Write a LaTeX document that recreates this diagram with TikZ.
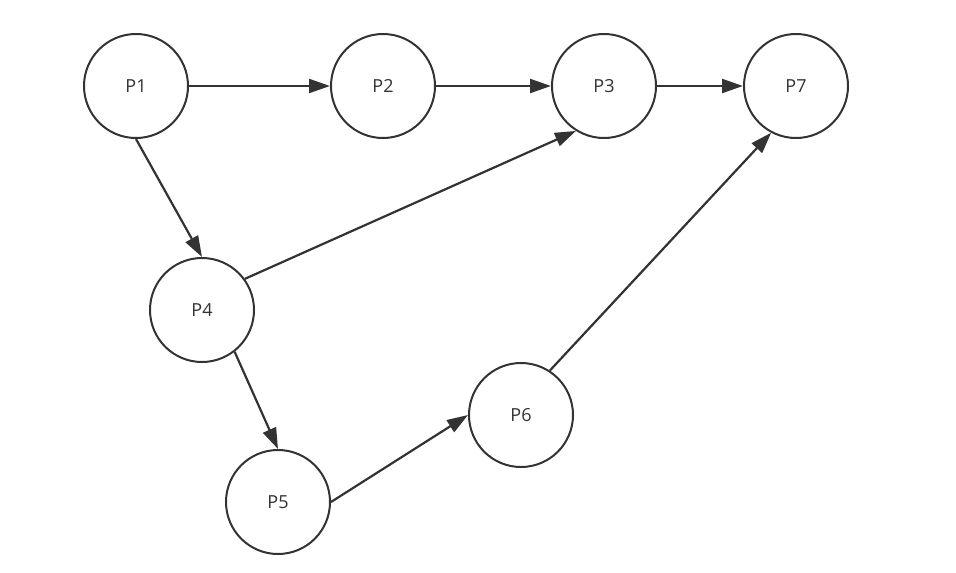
\documentclass[tikz,border=0pt]{standalone}
\usepackage{fontspec}
\setmainfont{Open Sans}
\usetikzlibrary{arrows.meta}
\definecolor{ink}{HTML}{333333}
\begin{document}
\begin{tikzpicture}[x=1pt,y=-1pt,
  pnode/.style={circle,draw=ink,line width=2pt,minimum size=104pt,inner sep=0pt,font=\fontsize{18}{21}\selectfont,text=ink},
  conn/.style={draw=ink,line width=2.2pt,-{Triangle[length=21pt,width=14pt]}}]
\useasboundingbox (0,0) rectangle (956,573);
\node[pnode] (p1) at (136,86) {P1};
\node[pnode] (p2) at (383,86) {P2};
\node[pnode] (p3) at (604,86) {P3};
\node[pnode] (p7) at (796,86) {P7};
\node[pnode] (p4) at (202,310) {P4};
\node[pnode] (p5) at (278,502) {P5};
\node[pnode] (p6) at (521,415) {P6};
\draw[conn] (p1) -- (p2);
\draw[conn] (p2) -- (p3);
\draw[conn] (p3) -- (p7);
\draw[conn] (p1.south) -- (p4.north);
\draw[conn] (p4.36) -- (p3.238);
\draw[conn] (p4.-52) -- (p5.north);
\draw[conn] (p5.east) -- (p6.west);
\draw[conn] (p6.57) -- (p7.242);
\end{tikzpicture}
\end{document}
